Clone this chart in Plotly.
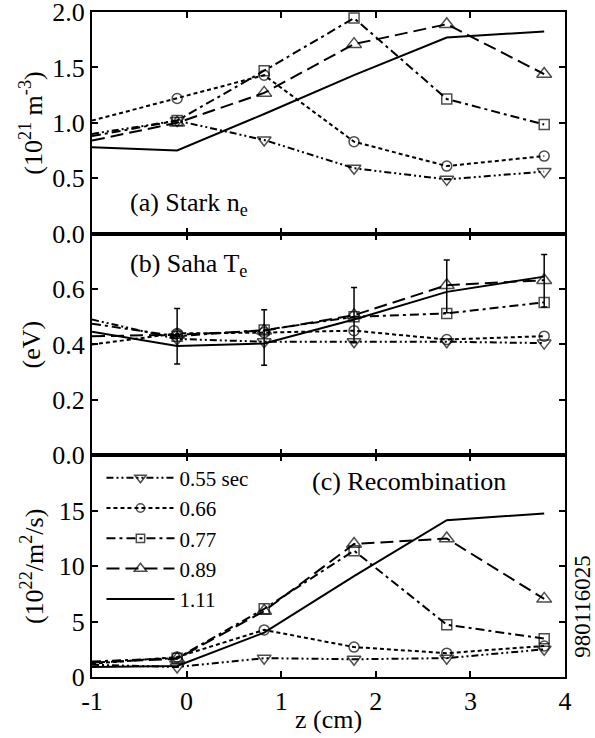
import plotly.graph_objects as go
from plotly.subplots import make_subplots

# ---- data ----
z = [-1.0, -0.1, 0.82, 1.77, 2.75, 3.78]
series_names = ["0.55 sec", "0.66", "0.77", "0.89", "1.11"]

ne_055 = [0.90, 1.02, 0.845, 0.59, 0.49, 0.56]
ne_066 = [1.02, 1.22, 1.43, 0.83, 0.61, 0.70]
ne_077 = [0.88, 1.02, 1.47, 1.945, 1.215, 0.985]
ne_089 = [0.84, 1.00, 1.27, 1.71, 1.89, 1.44]
ne_111 = [0.78, 0.75, 1.08, 1.43, 1.77, 1.825]

te_055 = [0.49, 0.42, 0.41, 0.41, 0.41, 0.405]
te_066 = [0.40, 0.44, 0.443, 0.45, 0.418, 0.43]
te_077 = [0.475, 0.43, 0.452, 0.50, 0.512, 0.552]
te_089 = [0.43, 0.435, 0.45, 0.506, 0.614, 0.632]
te_111 = [0.446, 0.395, 0.404, 0.49, 0.59, 0.645]

te_err_z = [-0.1, 0.82, 1.77, 2.75, 3.78]
te_err_center = [0.43, 0.425, 0.506, 0.61, 0.63]
te_err = [0.10, 0.10, 0.10, 0.095, 0.095]

rec_055 = [1.1, 0.9, 1.7, 1.6, 1.7, 2.5]
rec_066 = [1.2, 1.8, 4.25, 2.7, 2.15, 2.8]
rec_077 = [1.4, 1.7, 6.15, 11.4, 4.72, 3.46]
rec_089 = [1.3, 1.65, 5.95, 12.0, 12.5, 7.05]
rec_111 = [0.9, 1.0, 4.0, 9.1, 14.15, 14.75]

ne_ticks = [0, 0.5, 1.0, 1.5, 2.0]
ne_ticktext = ["0.0", "0.5", "1.0", "1.5", "2.0"]
te_ticks = [0, 0.2, 0.4, 0.6, 0.8]
te_ticktext = ["0.0", "0.2", "0.4", "0.6", ""]
rec_ticks = [0, 5, 10, 15, 20]
rec_ticktext = ["0", "5", "10", "15", ""]
x_ticks = [-1, 0, 1, 2, 3, 4]
x_ticktext = ["-1", "0", "1", "2", "3", "4"]

# ---- styles ----
FONT = "Liberation Serif"
FS = 26
styles = [
    dict(dash="7px,3px,2px,3px,2px,3px", symbol="triangle-down-open", size=12),
    dict(dash="4px,3px", symbol="circle-open", size=10),
    dict(dash="9px,4px,3px,4px", symbol="square-open", size=10),
    dict(dash="13px,6px", symbol="triangle-up-open", size=13),
    dict(dash="solid", symbol=None, size=0),
]

fig = make_subplots(rows=3, cols=1, shared_xaxes=True, vertical_spacing=0)

panels = [
    (1, [ne_055, ne_066, ne_077, ne_089, ne_111]),
    (2, [te_055, te_066, te_077, te_089, te_111]),
    (3, [rec_055, rec_066, rec_077, rec_089, rec_111]),
]

for row, data in panels:
    for i, (ys, st) in enumerate(zip(data, styles)):
        if st["symbol"] is None:
            mode = "lines"
            marker = None
        else:
            mode = "lines+markers"
            sizes = [0] + [st["size"]] * (len(z) - 1)
            marker = dict(symbol=st["symbol"], size=sizes, color="black",
                          line=dict(width=1.5, color="black"))
        fig.add_trace(go.Scatter(
            x=z, y=ys, mode=mode, name=series_names[i],
            line=dict(color="black", width=2, dash=st["dash"]),
            marker=marker, showlegend=(row == 3), cliponaxis=True,
        ), row=row, col=1)

# error bars in panel (b)
fig.add_trace(go.Scatter(
    x=te_err_z, y=te_err_center, mode="markers",
    marker=dict(size=1, color="rgba(0,0,0,0)"),
    error_y=dict(type="data", array=te_err, color="black", thickness=1.5, width=3),
    showlegend=False, hoverinfo="skip",
), row=2, col=1)

axis_common = dict(showline=True, linecolor="black", linewidth=2, mirror="ticks",
                   ticks="inside", ticklen=6, tickwidth=1.5, tickcolor="black",
                   showgrid=False, zeroline=False, automargin=False,
                   ticklabeloverflow="allow",
                   tickfont=dict(family=FONT, size=FS, color="black"))

for r in (1, 2, 3):
    fig.update_xaxes(range=[-1, 4], tickvals=x_ticks, ticktext=x_ticktext,
                     **axis_common, row=r, col=1)

fig.update_yaxes(range=[0, 2.0], tickvals=ne_ticks, ticktext=ne_ticktext,
                 **axis_common, row=1, col=1)
fig.update_yaxes(range=[0, 0.8], tickvals=te_ticks, ticktext=te_ticktext,
                 **axis_common, row=2, col=1)
fig.update_yaxes(range=[0, 20], tickvals=rec_ticks, ticktext=rec_ticktext,
                 **axis_common, row=3, col=1)

tfont = dict(family=FONT, size=FS, color="black")

# axis titles
fig.add_annotation(text="(10<sup>21</sup> m<sup>-3</sup>)", x=-0.127, y=5 / 6,
                   xref="paper", yref="paper", textangle=-90, showarrow=False,
                   xanchor="center", yanchor="middle", font=tfont)
fig.add_annotation(text="(eV)", x=-0.127, y=0.5,
                   xref="paper", yref="paper", textangle=-90, showarrow=False,
                   xanchor="center", yanchor="middle", font=tfont)
fig.add_annotation(text="(10<sup>22</sup>/m<sup>2</sup>/s)", x=-0.127, y=1 / 6,
                   xref="paper", yref="paper", textangle=-90, showarrow=False,
                   xanchor="center", yanchor="middle", font=tfont)
fig.add_annotation(text="z (cm)", x=0.5, y=-0.064, xref="paper", yref="paper",
                   showarrow=False, xanchor="center", yanchor="middle", font=tfont)

# panel labels
fig.add_annotation(text="(a) Stark n<sub>e</sub>", x=-0.62, y=0.27, xref="x", yref="y",
                   xanchor="left", yanchor="middle", showarrow=False, font=tfont)
fig.add_annotation(text="(b) Saha T<sub>e</sub>", x=-0.62, y=0.686, xref="x2", yref="y2",
                   xanchor="left", yanchor="middle", showarrow=False, font=tfont)
fig.add_annotation(text="(c) Recombination", x=1.3, y=17.6, xref="x3", yref="y3",
                   xanchor="left", yanchor="middle", showarrow=False, font=tfont)
fig.add_annotation(text="980116025", x=1.038, y=0.107, xref="paper", yref="paper",
                   textangle=-90, showarrow=False, xanchor="center", yanchor="middle",
                   font=dict(family=FONT, size=23, color="black"))

fig.update_layout(
    width=595, height=738,
    margin=dict(l=92, r=30, t=12, b=61, autoexpand=False),
    paper_bgcolor="white", plot_bgcolor="white",
    font=dict(family=FONT, size=FS, color="black"),
    legend=dict(x=0.02, y=0.33, xanchor="left", yanchor="top",
                bgcolor="rgba(0,0,0,0)", font=dict(family=FONT, size=21, color="black"),
                tracegroupgap=0, itemwidth=68),
    showlegend=True,
)

fig.write_html("out.html", config={"displayModeBar": False},
               post_script="document.body.style.margin='0';document.body.style.padding='0';")
